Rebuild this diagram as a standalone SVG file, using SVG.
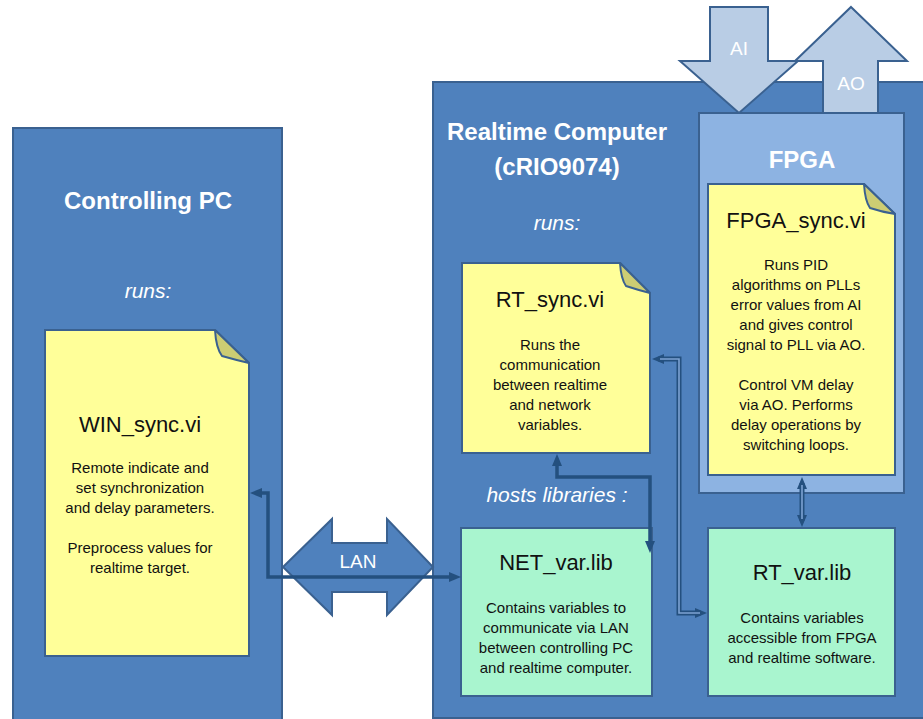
<svg xmlns="http://www.w3.org/2000/svg" width="923" height="719" viewBox="0 0 923 719">
<style>
.box{fill:#4f81bd;stroke:#3a6190;stroke-width:2}
.fpga{fill:#8db3e2;stroke:#3a6190;stroke-width:2}
.note{fill:#ffff99;stroke:#3a6190;stroke-width:2;stroke-linejoin:miter}
.fold{fill:#cdcd73;stroke:#3a6190;stroke-width:2;stroke-linejoin:round}
.lib{fill:#a9f5cf;stroke:#3a6190;stroke-width:2}
.io{fill:#b9cde5;stroke:#3a6190;stroke-width:2}
.lan{fill:#4f81bd;stroke:#3a6190;stroke-width:2}
.hd{font-family:"Liberation Sans",Arial,sans-serif;font-weight:bold;fill:#ffffff;text-anchor:middle;font-size:24px}
.it{font-family:"Liberation Sans",Arial,sans-serif;font-style:italic;fill:#ffffff;text-anchor:middle;font-size:21px}
.lbl{font-family:"Liberation Sans",Arial,sans-serif;fill:#ffffff;text-anchor:middle;font-size:19px}
.tt{font-family:"Liberation Sans",Arial,sans-serif;fill:#111111;text-anchor:middle;font-size:22px}
.bd{font-family:"Liberation Sans",Arial,sans-serif;fill:#111111;text-anchor:middle;font-size:15px}
.thick{fill:none;stroke:#24507f;stroke-width:3.5;stroke-linejoin:miter}
.dbl{fill:none;stroke:#24507f;stroke-width:5}
.dblin{fill:none;stroke:#7da3d4;stroke-width:1.6}
</style>
<defs>
<marker id="ah" viewBox="0 0 12 10" refX="6" refY="5" markerWidth="12" markerHeight="10" markerUnits="userSpaceOnUse" orient="auto-start-reverse">
<path d="M0,0 L12,5 L0,10 Z" fill="#24507f"/>
</marker>
</defs>

<g id="controlling-pc">
<rect class="box" x="13" y="128" width="269" height="600"/>
<text class="hd" x="148" y="209">Controlling PC</text>
<text class="it" x="148" y="298">runs:</text>
</g>

<g id="realtime-computer">
<rect class="box" x="433" y="82" width="500" height="636"/>
<text class="hd" x="557" y="140">Realtime Computer</text>
<text class="hd" x="557" y="175">(cRIO9074)</text>
<text class="it" x="557" y="230">runs:</text>
<text class="it" x="557" y="502">hosts libraries :</text>
</g>

<g id="ai-arrow">
<polygon class="io" points="710,7 768,7 768,61 798,61 739,113 680,61 710,61"/>
<text class="lbl" x="739" y="55">AI</text>
</g>

<g id="ao-arrow">
<polygon class="io" points="851,7 907,61 878,61 878,113 823,113 823,61 795,61"/>
<text class="lbl" x="851" y="90">AO</text>
</g>

<g id="fpga">
<rect class="fpga" x="699" y="113" width="205" height="380"/>
<text class="hd" x="802" y="168">FPGA</text>
</g>

<g id="win-sync">
<path class="note" d="M45,330 H215 L249,363 V656 H45 Z"/>
<path class="fold" d="M215,330 Q216,348 222,356 Q236,360 249,363 Z"/>
<text class="tt" x="140" y="432">WIN_sync.vi</text>
<text class="bd" x="140" y="473">Remote indicate and</text>
<text class="bd" x="140" y="493">set synchronization</text>
<text class="bd" x="140" y="513">and delay parameters.</text>
<text class="bd" x="140" y="553">Preprocess values for</text>
<text class="bd" x="140" y="573">realtime target.</text>
</g>

<g id="rt-sync">
<path class="note" d="M462,263 H620 L650,293 V453 H462 Z"/>
<path class="fold" d="M620,263 Q621,279 626,286 Q638,290 650,293 Z"/>
<text class="tt" x="550" y="307">RT_sync.vi</text>
<text class="bd" x="550" y="350">Runs the</text>
<text class="bd" x="550" y="370">communication</text>
<text class="bd" x="550" y="390">between realtime</text>
<text class="bd" x="550" y="410">and network</text>
<text class="bd" x="550" y="430">variables.</text>
</g>

<g id="fpga-sync">
<path class="note" d="M708,184 H864 L895,214 V475 H708 Z"/>
<path class="fold" d="M864,184 Q865,201 870,208 Q882,212 895,214 Z"/>
<text class="tt" x="796" y="228">FPGA_sync.vi</text>
<text class="bd" x="796" y="270">Runs PID</text>
<text class="bd" x="796" y="290">algorithms on PLLs</text>
<text class="bd" x="796" y="310">error values from AI</text>
<text class="bd" x="796" y="330">and gives control</text>
<text class="bd" x="796" y="350">signal to PLL via AO.</text>
<text class="bd" x="796" y="390">Control VM delay</text>
<text class="bd" x="796" y="410">via AO. Performs</text>
<text class="bd" x="796" y="430">delay operations by</text>
<text class="bd" x="796" y="450">switching loops.</text>
</g>

<g id="net-var">
<rect class="lib" x="461" y="528" width="191" height="168"/>
<text class="tt" x="556" y="570">NET_var.lib</text>
<text class="bd" x="556" y="613">Contains variables to</text>
<text class="bd" x="556" y="633">communicate via LAN</text>
<text class="bd" x="556" y="653">between controlling PC</text>
<text class="bd" x="556" y="673">and realtime computer.</text>
</g>

<g id="rt-var">
<rect class="lib" x="708" y="528" width="187" height="168"/>
<text class="tt" x="802" y="580">RT_var.lib</text>
<text class="bd" x="802" y="623">Contains variables</text>
<text class="bd" x="802" y="643">accessible from FPGA</text>
<text class="bd" x="802" y="663">and realtime software.</text>
</g>

<g id="lan">
<polygon class="lan" points="283,567 332,519 332,543 387,543 387,519 433,567 387,615 387,592 332,592 332,615"/>
<text class="lbl" x="358" y="568">LAN</text>
</g>

<g id="connectors">
<path class="thick" d="M256,493 H268 V577 H455" marker-start="url(#ah)" marker-end="url(#ah)"/>
<path class="thick" d="M557,460 V477 H650 V547" marker-start="url(#ah)" marker-end="url(#ah)"/>
<path class="dbl" d="M658,359 H679 V613 H701" marker-start="url(#ah)" marker-end="url(#ah)"/>
<path class="dblin" d="M660,359 H679 V613 H700"/>
<path class="dbl" d="M802,483 V521" marker-start="url(#ah)" marker-end="url(#ah)"/>
<path class="dblin" d="M802,485 V519"/>
</g>
</svg>
